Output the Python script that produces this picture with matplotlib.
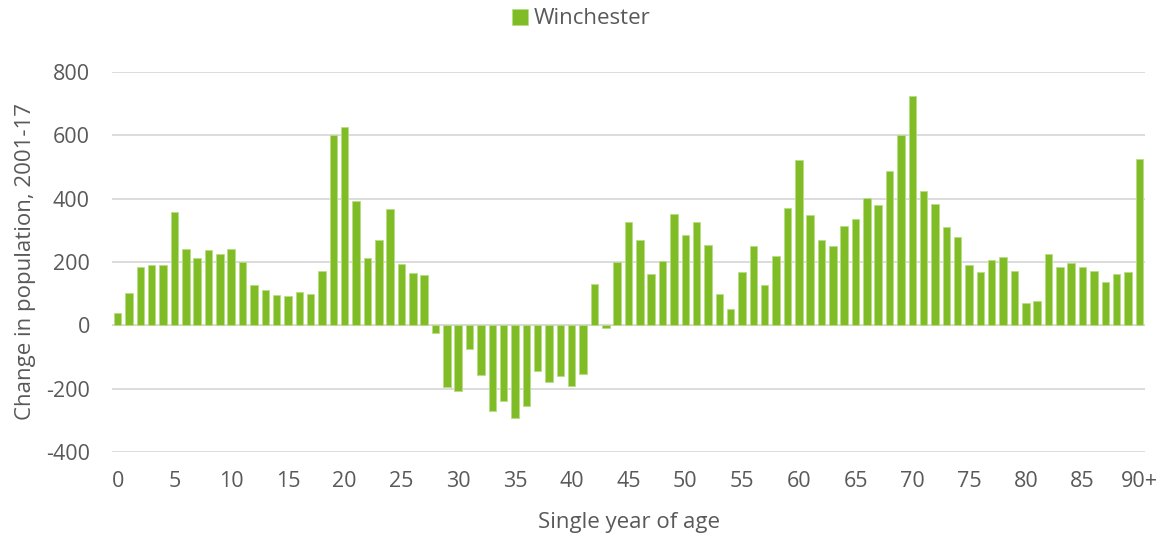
import numpy as np
import matplotlib
matplotlib.use('Agg')
import matplotlib.pyplot as plt

# Population change by single year of age, Winchester 2001-17
ages = list(range(91))
change = [38, 102, 185, 190, 190, 357, 242, 213, 238, 225,
          242, 200, 128, 113, 95, 93, 106, 99, 172, 600,
          627, 394, 214, 269, 367, 195, 166, 159, -25, -195,
          -208, -75, -156, -270, -239, -294, -256, -143, -180, -161,
          -191, -154, 131, -8, 201, 327, 271, 163, 202, 352,
          285, 326, 255, 98, 52, 167, 251, 128, 220, 369,
          523, 348, 269, 252, 314, 337, 402, 379, 487, 602,
          723, 424, 382, 311, 278, 192, 169, 206, 216, 172,
          69, 78, 226, 185, 196, 185, 172, 138, 163, 167,
          526]
tick_pos = list(range(0, 91, 5))
tick_labels = [str(a) for a in range(0, 90, 5)] + ['90+']
yticks = [-400, -200, 0, 200, 400, 600, 800]

green = '#80BC26'
grey_txt = '#595959'
grid_col = '#D9D9D9'

plt.rcParams['font.family'] = ['Open Sans', 'DejaVu Sans']

fig = plt.figure(figsize=(11.62, 5.38), dpi=100)
ax = fig.add_axes([112/1162, 1-452/538, (1145-112)/1162, (452-72)/538])

ax.bar(ages, change, width=0.66, color=green, edgecolor='#B9DD85', linewidth=0.6,
       label='Winchester', zorder=3)

ax.set_xlim(-0.5, 90.5)
ax.set_ylim(-400, 800)
ax.set_yticks(yticks)
ax.set_yticklabels([str(v) for v in yticks])
ax.set_xticks(tick_pos)
ax.set_xticklabels(tick_labels)
ax.grid(axis='y', color=grid_col, linewidth=1.3, zorder=0)
ax.axhline(0, color=grid_col, linewidth=1.5, zorder=2)
for s in ax.spines.values():
    s.set_visible(False)
ax.tick_params(axis='both', length=0, labelsize=15.5, colors=grey_txt)
ax.tick_params(axis='y', pad=16)
ax.tick_params(axis='x', pad=14)

ax.set_xlabel('Single year of age', fontsize=16, color=grey_txt, labelpad=14)
ax.set_ylabel('Change in population, 2001-17', fontsize=16, color=grey_txt, labelpad=7)

fig.legend(loc='center', bbox_to_anchor=(0.5, 1-19/538), frameon=False,
           fontsize=16, labelcolor=grey_txt, handlelength=0.75, handleheight=0.75,
           handletextpad=0.25)

fig.savefig('out.png', dpi=100)
